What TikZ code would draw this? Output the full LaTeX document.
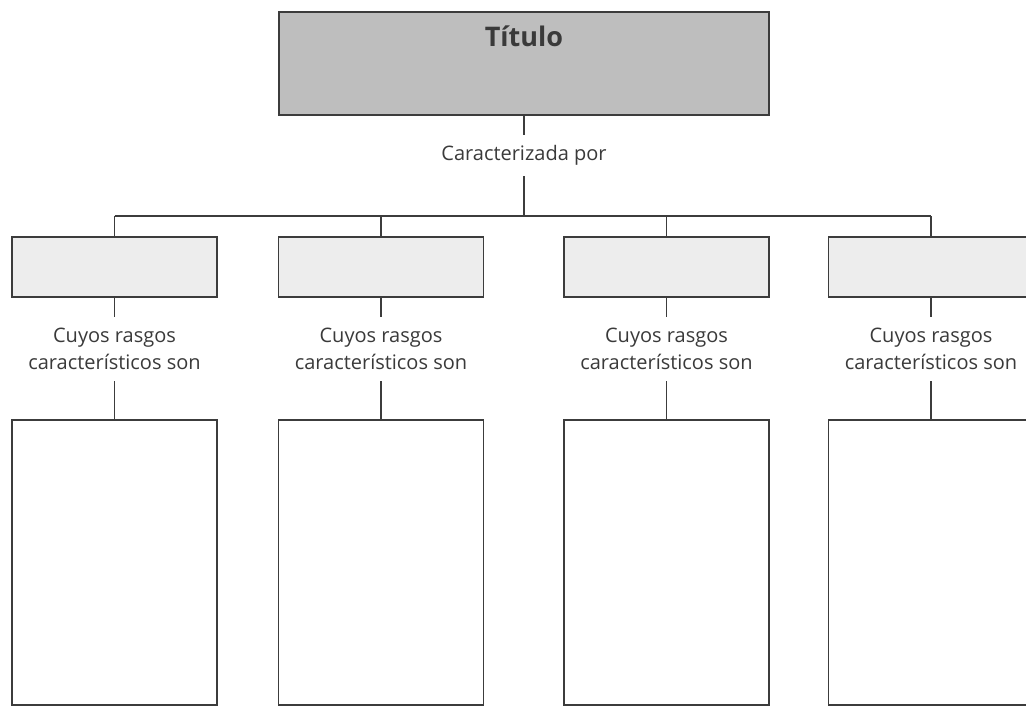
\documentclass[tikz,border=0pt]{standalone}
\usepackage{fontspec}
\setmainfont{Open Sans}
\begin{document}
\begin{tikzpicture}[x=1pt,y=-1pt,
  conn/.style={draw=linec, line width=1.8pt},
  titlebox/.style={draw=linec, line width=1.8pt, fill=titlefill, minimum width=490pt, minimum height=103pt, inner sep=0pt},
  smallbox/.style={draw=linec, line width=1.8pt, fill=smallfill, minimum width=205pt, minimum height=60pt, inner sep=0pt},
  bigbox/.style={draw=linec, line width=1.8pt, fill=white, minimum width=205pt, minimum height=285pt, inner sep=0pt},
  lbl/.style={text=textc, font=\fontsize{20}{27}\selectfont, align=center, inner sep=0pt},
]
\definecolor{linec}{HTML}{3C3C3C}
\definecolor{textc}{HTML}{3A3A3A}
\definecolor{titlefill}{HTML}{BEBEBE}
\definecolor{smallfill}{HTML}{EDEDED}
\useasboundingbox (0,0) rectangle (1026,707);
\clip (0,0) rectangle (1026,707);
\fill[white] (0,0) rectangle (1026,707);

\node[titlebox, label={[anchor=base, inner sep=0pt, yshift=-35pt, text=textc, font=\fontsize{27}{32}\selectfont\bfseries]north:Título}] (title) at (524,63.5) {};
\node[lbl, minimum height=41pt] (car) at (524,155.5) {Caracterizada por};
\coordinate (bus) at (524,216);

\foreach \i/\x in {1/114.5, 2/381, 3/666.5, 4/931} {
  \node[smallbox] (s\i) at (\x,267) {};
  \node[lbl, minimum height=64pt] (l\i) at (\x,349) {Cuyos rasgos\\característicos son};
  \node[bigbox] (b\i) at (\x,562.5) {};
}

\draw[conn] (title.south) -- (car.north);
\draw[conn] (car.south) -- (bus);
\draw[conn] (s1.north |- bus) -- (s4.north |- bus);
\foreach \i in {1,2,3,4} {
  \draw[conn] (s\i.north |- bus) -- (s\i.north);
  \draw[conn] (s\i.south) -- (l\i.north);
  \draw[conn] (l\i.south) -- (b\i.north);
}
\end{tikzpicture}
\end{document}
